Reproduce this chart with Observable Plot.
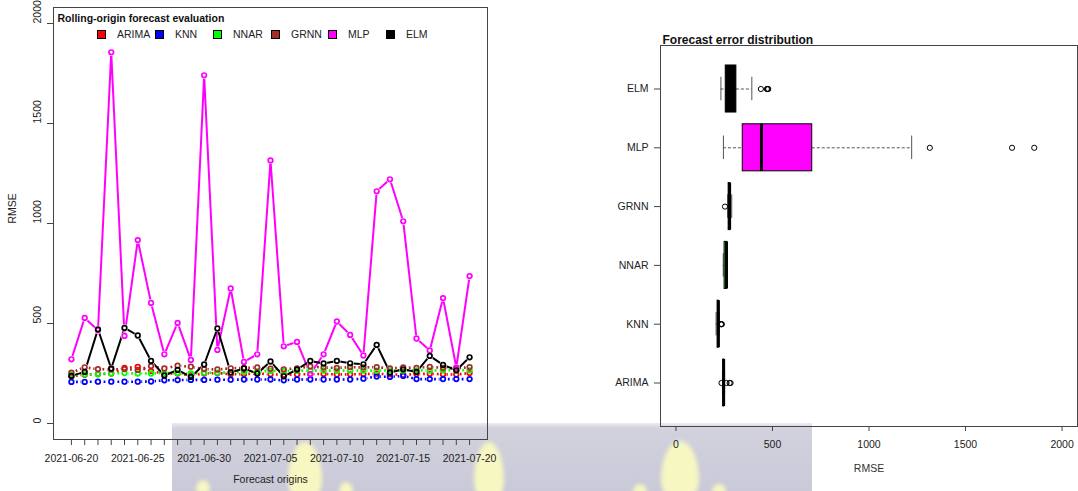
<!DOCTYPE html>
<html>
<head>
<meta charset="utf-8">
<script src="https://cdn.jsdelivr.net/npm/d3@7"></script>
<script src="https://cdn.jsdelivr.net/npm/@observablehq/plot@0.6"></script>
<style>
  body { margin: 0; background: #fff; }
  #wrap { position: relative; width: 1078px; height: 491px; overflow: hidden;
          font-family: "Liberation Sans", Arial, Helvetica, sans-serif; background: #fff; }
  .panel { position: absolute; top: 0; }
  .panel svg { overflow: visible; }
  #band { position: absolute; left: 172px; top: 423px; width: 640px; height: 68px;
          background: linear-gradient(#ececf2 0px, #d2d2de 5px, #c9c9d8 100%); }
  .blob { position: absolute; background: #f7f7c2; filter: blur(2px);
          border-radius: 50% 50% 45% 45% / 65% 65% 35% 35%; }
  #legend { position: absolute; left: 0; top: 0; width: 495px; height: 60px; pointer-events: none; }
  .key { position: absolute; width: 9px; height: 9px; border: 1px solid #000; box-sizing: border-box; }
  .klab { position: absolute; font-size: 10.5px; color: #222; line-height: 12px; }
</style>
</head>
<body>
<div id="wrap">
  <div id="band"></div>
  <div class="blob" style="left:288px;top:442px;width:34px;height:60px"></div>
  <div class="blob" style="left:474px;top:442px;width:30px;height:60px"></div>
  <div class="blob" style="left:661px;top:441px;width:38px;height:60px"></div>
  <div class="blob" style="left:339px;top:482px;width:14px;height:14px"></div>
  <div class="blob" style="left:633px;top:484px;width:14px;height:12px"></div>
  <div class="blob" style="left:712px;top:484px;width:14px;height:12px"></div>
  <div class="blob" style="left:196px;top:480px;width:14px;height:14px"></div>
  <div id="left" class="panel" style="left:0"></div>
  <div id="right" class="panel" style="left:560px"></div>
  <div id="legend"></div>
</div>
<script>
// Models compared and their colours
const models = ["ARIMA", "KNN", "NNAR", "GRNN", "MLP", "ELM"];
const colors = ["#FF0000", "#0000FF", "#00FF00", "#A52A2A", "#FF00FF", "#000000"];

// Forecast origins (daily, 2021-06-20 .. 2021-07-20)
const firstOrigin = "2021-06-20";
const lastOrigin = "2021-07-20";

// RMSE per forecast origin
const arima = [236, 244, 247, 250, 278, 283, 262, 250, 250, 241, 250, 252, 246, 247, 250, 246,
               244, 245, 247, 248, 245, 246, 247, 249, 246, 244, 247, 249, 246, 245, 252];
const knn   = [208, 208, 209, 209, 209, 209, 210, 216, 217, 218, 218, 219, 219, 220, 220, 220,
               216, 220, 220, 220, 220, 220, 224, 235, 233, 238, 222, 222, 222, 222, 222];
const nnar  = [245, 246, 246, 250, 252, 250, 250, 252, 252, 250, 254, 254, 255, 258, 260, 263,
               262, 265, 264, 265, 264, 265, 265, 264, 266, 265, 266, 265, 266, 266, 266];
const grnn  = [254, 281, 272, 270, 272, 268, 287, 275, 289, 284, 272, 270, 276, 278, 280, 274,
               271, 276, 285, 280, 278, 282, 280, 282, 275, 280, 278, 283, 278, 276, 282];
const mlp   = [321, 528, 466, 1856, 438, 917, 603, 346, 503, 318, 1741, 368, 675, 308, 346, 1315,
               386, 408, 246, 346, 510, 443, 340, 1161, 1221, 1011, 425, 365, 627, 280, 737];
const elm   = [238, 258, 471, 275, 478, 440, 313, 240, 268, 233, 295, 475, 255, 275, 250, 310,
               236, 270, 313, 300, 313, 301, 296, 393, 255, 271, 258, 338, 293, 266, 331];

// Axis ticks
const rmseTicks = [0, 500, 1000, 1500, 2000];
const dateTickLabels = ["2021-06-20", "2021-06-25", "2021-06-30", "2021-07-05",
                        "2021-07-10", "2021-07-15", "2021-07-20"];

const seriesByModel = {ARIMA: arima, KNN: knn, NNAR: nnar, GRNN: grnn, MLP: mlp, ELM: elm};
const dottedModels = ["ARIMA", "KNN", "NNAR", "GRNN"];

const parse = d3.utcParse("%Y-%m-%d");
const fmt = d3.utcFormat("%Y-%m-%d");
const days = d3.utcDay.range(parse(firstOrigin), d3.utcDay.offset(parse(lastOrigin), 1));

const rows = models.flatMap(m => seriesByModel[m].map((v, i) => ({model: m, date: days[i], rmse: v})));
const pad = 1.35 * 864e5;
const xDomain = [new Date(+days[0] - pad), new Date(+days[days.length - 1] + pad)];
const FONT = '"Liberation Sans", Arial, Helvetica, sans-serif';

// ---- Left panel: RMSE by forecast origin ----
const lineMarks = models.map(m => Plot.line(rows.filter(r => r.model === m), {
  x: "date", y: "rmse", stroke: "model",
  strokeWidth: dottedModels.includes(m) ? 2.6 : 2,
  strokeDasharray: dottedModels.includes(m) ? "1.8,2.8" : null,
  strokeLinecap: "butt"
}));
// small white discs open a gap in each line around its points
const gapMarks = [Plot.dot(rows, {x: "date", y: "rmse", r: 3.6, fill: "white", stroke: null})];
const pointMarks = models.map(m => Plot.dot(rows.filter(r => r.model === m), {
  x: "date", y: "rmse", r: 2.3, stroke: "model", strokeWidth: 1.7, fill: "none"
}));

const left = Plot.plot({
  width: 495, height: 491,
  marginLeft: 53, marginRight: 8, marginTop: 7, marginBottom: 52,
  x: {type: "utc", domain: xDomain, label: null},
  y: {domain: [-80, 2080], label: null},
  color: {domain: models, range: colors},
  style: {background: "transparent", fontFamily: FONT, fontSize: "10.5px", color: "#222", overflow: "visible"},
  marks: [
    Plot.frame({stroke: "#444"}),
    Plot.axisY({ticks: rmseTicks, tickSize: 6, tickFormat: () => "", stroke: "#444"}),
    Plot.text(rmseTicks, {y: d => d, text: d => String(d), frameAnchor: "left", dx: -16, rotate: -90, fill: "#222"}),
    Plot.axisX({ticks: days, tickSize: 6, tickPadding: 9, stroke: "#444",
      tickFormat: d => dateTickLabels.includes(fmt(d)) ? fmt(d) : ""}),
    Plot.text(["Forecast origins"], {frameAnchor: "bottom", dy: 43, fill: "#222"}),
    Plot.text(["RMSE"], {frameAnchor: "left", dx: -41, rotate: -90, fill: "#222"}),
    Plot.text(["Rolling-origin forecast evaluation"], {frameAnchor: "top-left", dx: 4, dy: 7,
      textAnchor: "start", fontWeight: "bold", fill: "#111"}),
    ...lineMarks,
    ...gapMarks,
    ...pointMarks
  ]
});
document.getElementById("left").append(left);

// Legend row inside the left frame
const legend = d3.select("#legend");
const keyX = [97, 155, 213, 271, 328, 386];
models.forEach((m, k) => {
  legend.append("div").attr("class", "key")
    .style("left", keyX[k] + "px").style("top", "30px").style("background", colors[k]);
  legend.append("div").attr("class", "klab")
    .style("left", (keyX[k] + 20) + "px").style("top", "28px").text(m);
});

// ---- Right panel: distribution of errors per model (box plots) ----
const stats = models.map((m, k) => {
  const v = seriesByModel[m].slice().sort(d3.ascending);
  const q1 = d3.quantile(v, 0.25), med = d3.quantile(v, 0.5), q3 = d3.quantile(v, 0.75);
  const iqr = q3 - q1;
  const lo = d3.min(v.filter(x => x >= q1 - 1.5 * iqr));
  const hi = d3.max(v.filter(x => x <= q3 + 1.5 * iqr));
  return {model: m, p: k + 1, q1, med, q3, lo, hi, out: v.filter(x => x < lo || x > hi)};
});
const outliers = stats.flatMap(s => s.out.map(x => ({x, p: s.p})));

const right = Plot.plot({
  width: 518, height: 491,
  marginLeft: 100, marginRight: 1, marginTop: 45, marginBottom: 65,
  x: {domain: [-80, 2080], label: null},
  y: {domain: [0.26, 6.74], label: null},
  color: {domain: models, range: colors},
  style: {background: "transparent", fontFamily: FONT, fontSize: "10.5px", color: "#222", overflow: "visible"},
  marks: [
    Plot.frame({stroke: "#444"}),
    Plot.axisY({ticks: [1, 2, 3, 4, 5, 6], tickFormat: i => models[i - 1], tickSize: 6, tickPadding: 6, stroke: "#444"}),
    Plot.axisX({ticks: rmseTicks, tickFormat: d => String(d), tickSize: 5, tickPadding: 9, stroke: "#444"}),
    Plot.text(["RMSE"], {frameAnchor: "bottom", dy: 45, fill: "#333"}),
    Plot.text(["Forecast error distribution"], {frameAnchor: "top-left", dx: 2, dy: -2, lineAnchor: "bottom",
      textAnchor: "start", fontWeight: "bold", fontSize: 12, fill: "#111"}),
    Plot.ruleY(stats, {y: "p", x1: "lo", x2: "q1", stroke: "#555", strokeDasharray: "3,2"}),
    Plot.ruleY(stats, {y: "p", x1: "q3", x2: "hi", stroke: "#555", strokeDasharray: "3,2"}),
    Plot.ruleX(stats, {x: "lo", y1: d => d.p - 0.2, y2: d => d.p + 0.2, stroke: "#555"}),
    Plot.ruleX(stats, {x: "hi", y1: d => d.p - 0.2, y2: d => d.p + 0.2, stroke: "#555"}),
    Plot.rect(stats, {x1: "q1", x2: "q3", y1: d => d.p - 0.4, y2: d => d.p + 0.4, fill: "model", stroke: "#000"}),
    Plot.ruleX(stats, {x: "med", y1: d => d.p - 0.4, y2: d => d.p + 0.4, stroke: "#000", strokeWidth: 3}),
    Plot.dot(outliers, {x: "x", y: "p", r: 2.6, stroke: "#000", strokeWidth: 1, fill: "none"})
  ]
});
document.getElementById("right").append(right);
</script>
</body>
</html>
